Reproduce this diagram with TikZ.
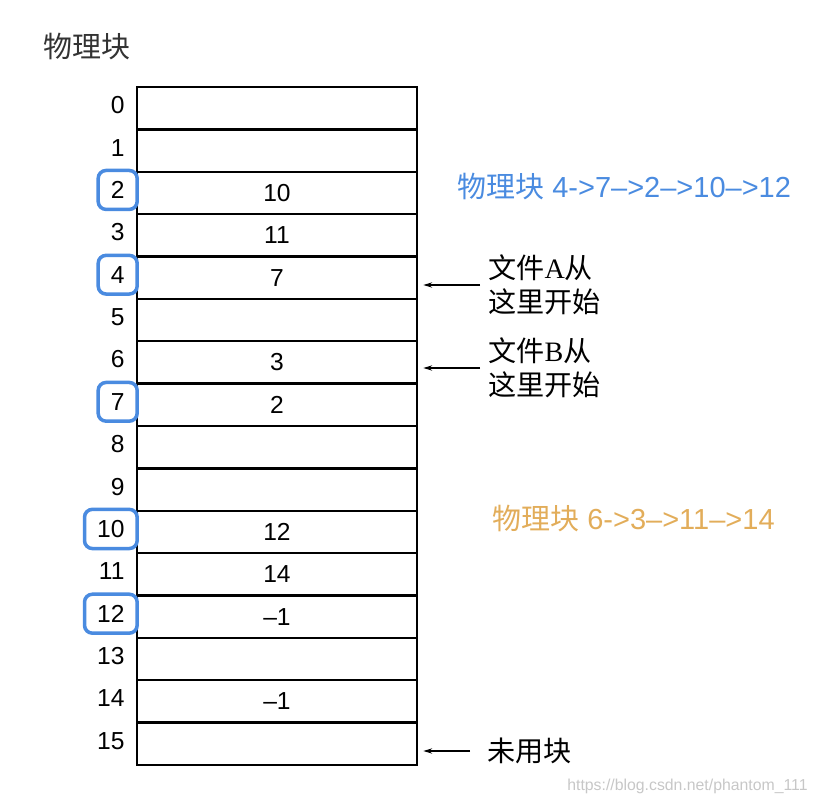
\documentclass[tikz,border=0pt]{standalone}
\usepackage{fontspec}
\setmainfont{Liberation Sans}
\newfontfamily\cjk{Noto Sans CJK SC}
\newfontfamily\bookfont{Liberation Serif}
\usetikzlibrary{arrows.meta,fit}

\definecolor{hlblue}{HTML}{4A8BE0}
\definecolor{hlorange}{HTML}{E2AD5A}

\tikzset{
  cell/.style={draw, line width=1.3pt, minimum width=5.6cm, minimum height=0.8475cm,
               inner sep=0pt, font=\fontsize{14}{14}\selectfont},
  rowlbl/.style={anchor=east, inner sep=2pt, font=\fontsize{14}{14}\selectfont},
  hlbox/.style={draw=hlblue, line width=2pt, rounded corners=4.5pt, inner xsep=5pt, inner ysep=4pt},
  note/.style={anchor=west, align=left, inner sep=0pt, font=\cjk\fontsize{16}{19.5}\selectfont},
  ptr/.style={-{Stealth[length=5pt,width=3pt]}, line width=0.6pt, shorten >=3pt}
}

\begin{document}
\begin{tikzpicture}[x=0.02cm,y=-0.02cm]
  \useasboundingbox (0,0) rectangle (816,804);

  \node [text=black!80, font=\cjk\fontsize{16.5}{16.5}\selectfont] (title) at (87,47) {物理块};

  % the sixteen blocks and their numbers
  \foreach \i/\v in {0/,1/,2/10,3/11,4/7,5/,6/3,7/2,8/,9/,10/12,11/14,12/--1,13/,14/--1,15/}
  {
    \node [cell] (r\i) at (277,108.2+42.375*\i) {\v};
    \node [rowlbl] (n\i) at ([xshift=-0.15cm,yshift=0.06cm]r\i.west) {\i};
  }

  % blocks of file A
  \foreach \i in {2,4,7,10,12}
  {
    \node [hlbox, fit=(n\i)] (h\i) {};
  }

  \node [anchor=west, inner sep=0pt, text=hlblue, font=\fontsize{16.5}{16.5}\selectfont] (chainA) at (457,187)
        {{\cjk 物理块} 4->7--{}>2--{}>10--{}>12};
  \node [anchor=west, inner sep=0pt, text=hlorange, font=\fontsize{16.5}{16.5}\selectfont] (chainB) at (492,519)
        {{\cjk 物理块} 6->3--{}>11--{}>14};

  \node [note] (fa) at (488,285) {文件{\bookfont A}从\\这里开始};
  \node [note] (fb) at (488,368) {文件{\bookfont B}从\\这里开始};
  \node [note] (free) at (487,751) {未用块};

  \draw [ptr] ([xshift=-0.16cm]fa.west) -- (fa.west -| r4.east);
  \draw [ptr] ([xshift=-0.16cm]fb.west) -- (fb.west -| r6.east);
  \draw [ptr] ([xshift=-0.34cm]free.west) -- (free.west -| r15.east);

  \node [anchor=east, inner sep=0pt, text=black!22, font=\fontsize{9}{10}\selectfont] (mark) at (808,786)
        {https://blog.csdn.net/phantom\_111};
\end{tikzpicture}
\end{document}
